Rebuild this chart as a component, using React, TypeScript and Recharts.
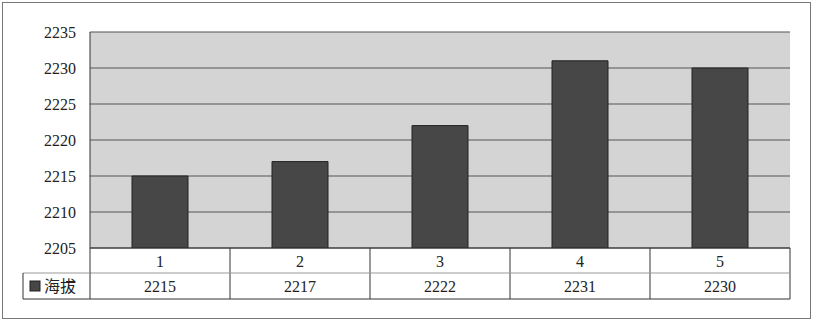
import { BarChart, Bar, XAxis, YAxis, CartesianGrid } from "recharts";

const categories = ["1", "2", "3", "4", "5"];
const elevation = [2215, 2217, 2222, 2231, 2230];
const yTicks = [2205, 2210, 2215, 2220, 2225, 2230, 2235];
const seriesName = "海拔";

const data = categories.map((c, i) => ({ cat: c, value: elevation[i] }));

const FONT = "Liberation Serif, DejaVu Serif, Noto Sans CJK SC, serif";
const ROW1 = 25;
const ROW2 = 26;
const LEGEND_W = 67;

const textStyle = { fontFamily: FONT, fontSize: 16, fill: "#222" };

function TableTick(props: any) {
  const { x, y, payload, index } = props;
  const half = payload.offset;
  const left = x - half;
  const right = x + half;
  const bottom = y + ROW1 + ROW2;
  return (
    <g>
      <text x={x} y={y + 19} textAnchor="middle" style={textStyle}>
        {payload.value}
      </text>
      <text x={x} y={y + ROW1 + 19} textAnchor="middle" style={textStyle}>
        {elevation[index]}
      </text>
      <line x1={right} x2={right} y1={y} y2={bottom} stroke="#333" />
      <line x1={left} x2={right} y1={y + ROW1} y2={y + ROW1} stroke="#999" />
      <line x1={left} x2={right} y1={bottom} y2={bottom} stroke="#333" />
      {index === 0 && (
        <g>
          <line x1={left} x2={left} y1={y} y2={bottom} stroke="#333" />
          <line x1={left - LEGEND_W} x2={left} y1={y + ROW1} y2={y + ROW1} stroke="#999" />
          <line x1={left - LEGEND_W} x2={left} y1={bottom} y2={bottom} stroke="#333" />
          <line x1={left - LEGEND_W} x2={left - LEGEND_W} y1={y + ROW1} y2={bottom} stroke="#333" />
          <rect x={left - LEGEND_W + 7} y={y + ROW1 + 8} width={10} height={10} fill="#474747" stroke="#222" />
          <text x={left - LEGEND_W + 21} y={y + ROW1 + 19} style={textStyle}>
            {seriesName}
          </text>
        </g>
      )}
    </g>
  );
}

export default function App() {
  return (
    <div style={{ position: "absolute", left: 0, top: 0, width: 814, height: 323, background: "#fff", fontFamily: FONT }}>
      <div
        style={{
          position: "absolute",
          left: 2,
          top: 2,
          width: 807,
          height: 315,
          border: "1px solid #777",
        }}
      />
      <BarChart
        width={814}
        height={323}
        data={data}
        margin={{ top: 32, right: 24, left: 0, bottom: 0 }}
        barCategoryGap="30%"
        style={{ fontFamily: FONT }}
      >
        <CartesianGrid vertical={false} stroke="#555" fill="#d4d4d4" />
        <XAxis
          dataKey="cat"
          height={75}
          tickLine={false}
          tickSize={0}
          tickMargin={0}
          axisLine={{ stroke: "#333" }}
          tick={<TableTick />}
          interval={0}
        />
        <YAxis
          width={90}
          domain={[2205, 2235]}
          ticks={yTicks}
          tickLine={false}
          tickSize={0}
          tickMargin={14}
          axisLine={{ stroke: "#333" }}
          tick={{ fontSize: 16, fill: "#222", style: { fontFamily: FONT } }}
          allowDataOverflow
        />
        <Bar dataKey="value" fill="#474747" stroke="#222" isAnimationActive={false} />
      </BarChart>
    </div>
  );
}
